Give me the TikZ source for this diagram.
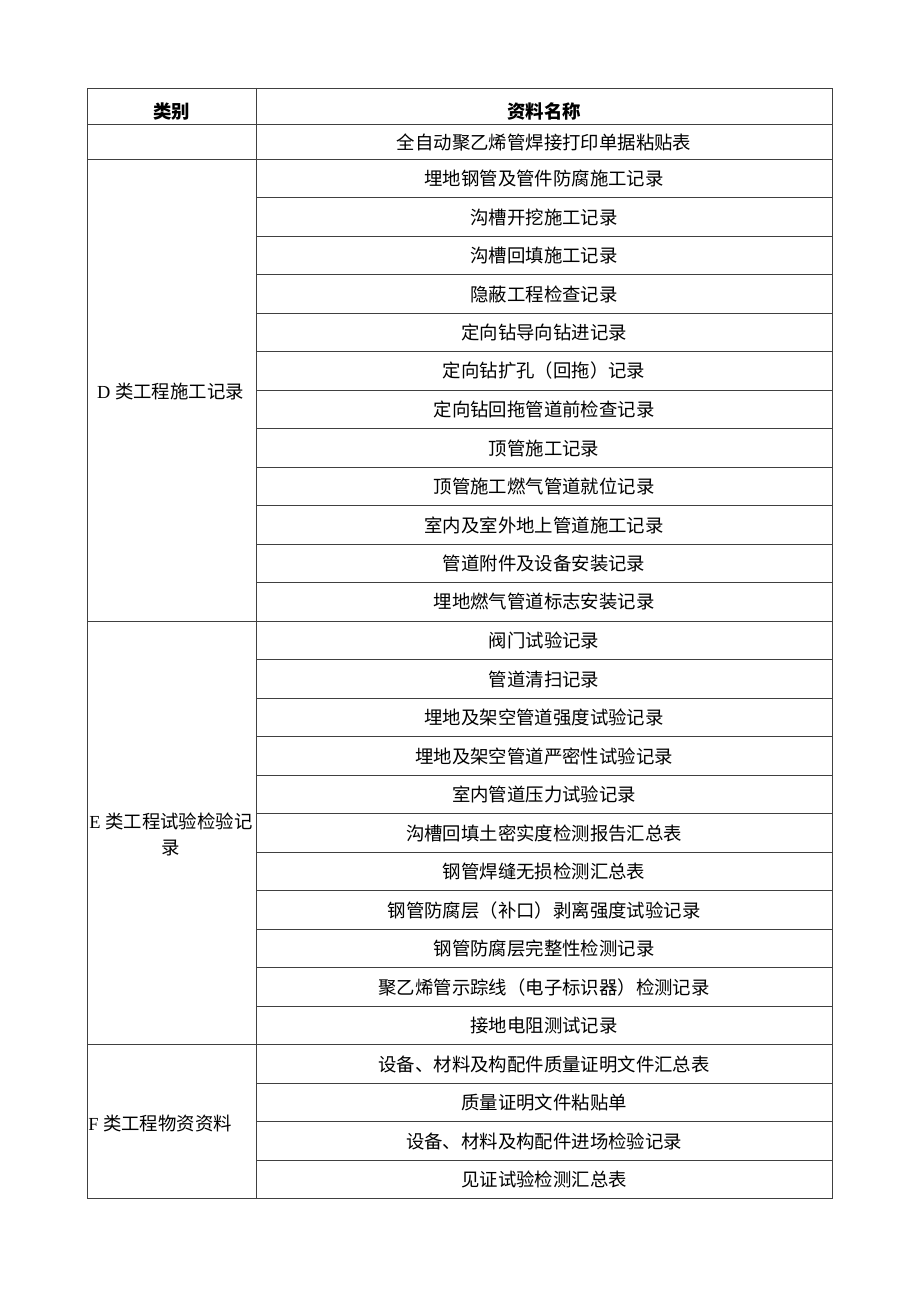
\documentclass[tikz,border=0pt]{standalone}
\usepackage{fontspec}
\setmainfont{Liberation Serif}
\newfontfamily\cjk{Noto Sans CJK SC}
\begin{document}
\begin{tikzpicture}[x=0.75pt,y=-0.75pt,
  rule/.style={draw=black!75,line width=0.7pt},
  cell/.style={inner sep=0pt,font=\cjk\fontsize{13.8}{16}\selectfont},
  head/.style={inner sep=0pt,font=\cjk\bfseries\fontsize{13.8}{16}\selectfont},
  cat/.style={inner sep=0pt,align=center,font=\fontsize{13.8}{19.5}\selectfont}]
\useasboundingbox (0,0) rectangle (920,1301);
% outer frame and column divider
\draw[rule] (87,88) rectangle (832,1198.5);
\draw[rule] (256,88) -- (256,1198.5);
\draw[rule] (87,124) -- (832,124);
\draw[rule] (87,159) -- (832,159);
\foreach \k in {1,...,26} {
  \draw[rule] (256,159+\k*38.5) -- (832,159+\k*38.5);
}
\draw[rule] (87,621) -- (256,621);
\draw[rule] (87,1044.5) -- (256,1044.5);
% header
\node[head] (h1) at (171.5,111.5) {类别};
\node[head] (h2) at (544,111.5) {资料名称};
\node[cell] (r0) at (544,142.5) {全自动聚乙烯管焊接打印单据粘贴表};
% rows
\foreach \t [count=\i] in {埋地钢管及管件防腐施工记录,沟槽开挖施工记录,沟槽回填施工记录,隐蔽工程检查记录,定向钻导向钻进记录,定向钻扩孔（回拖）记录,定向钻回拖管道前检查记录,顶管施工记录,顶管施工燃气管道就位记录,室内及室外地上管道施工记录,管道附件及设备安装记录,埋地燃气管道标志安装记录,阀门试验记录,管道清扫记录,埋地及架空管道强度试验记录,埋地及架空管道严密性试验记录,室内管道压力试验记录,沟槽回填土密实度检测报告汇总表,钢管焊缝无损检测汇总表,钢管防腐层（补口）剥离强度试验记录,钢管防腐层完整性检测记录,聚乙烯管示踪线（电子标识器）检测记录,接地电阻测试记录,设备、材料及构配件质量证明文件汇总表,质量证明文件粘贴单,设备、材料及构配件进场检验记录,见证试验检测汇总表} {
  \node[cell] (r\i) at (544,159+\i*38.5-19) {\t};
}
% category labels
\node[cat] (cD) at (170.5,391.5) {D {\cjk 类工程施工记录}};
\node[cat] (cE) at (171,834.5) {E {\cjk 类工程试验检验记}\\{\cjk 录}};
\node[cat,anchor=west] (cF) at (88,1123.5) {F {\cjk 类工程物资资料}};
\end{tikzpicture}
\end{document}
